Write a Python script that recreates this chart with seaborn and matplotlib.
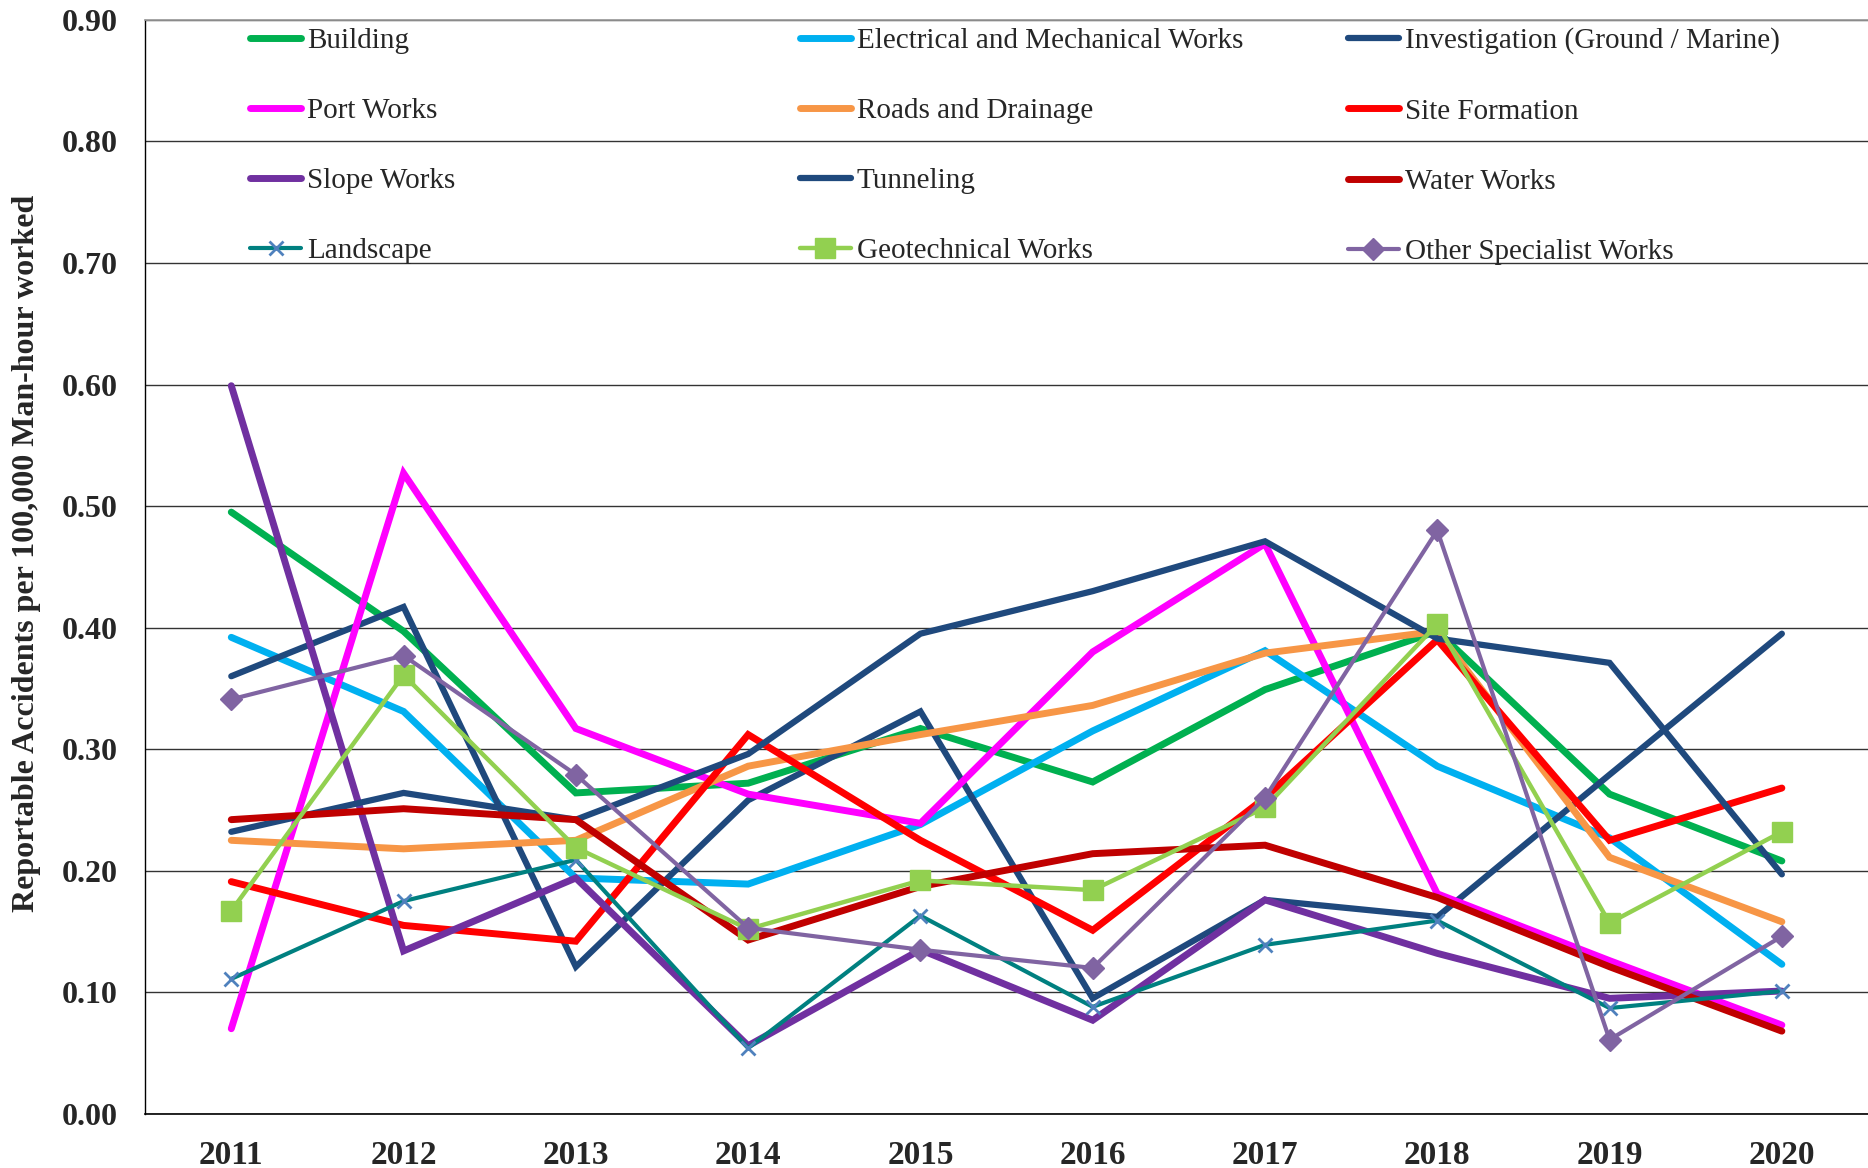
import numpy as np
import pandas as pd
import matplotlib
matplotlib.use("Agg")
import matplotlib.pyplot as plt
import seaborn as sns

years = ["2011", "2012", "2013", "2014", "2015", "2016", "2017", "2018", "2019", "2020"]

building = [0.495, 0.397, 0.264, 0.272, 0.317, 0.273, 0.349, 0.397, 0.263, 0.208]
electrical = [0.392, 0.331, 0.194, 0.189, 0.238, 0.315, 0.381, 0.286, 0.227, 0.123]
investigation = [0.360, 0.417, 0.121, 0.258, 0.331, 0.095, 0.176, 0.162, 0.279, 0.395]
port_works = [0.070, 0.527, 0.317, 0.263, 0.239, 0.380, 0.469, 0.181, 0.126, 0.073]
roads = [0.225, 0.218, 0.225, 0.286, 0.312, 0.336, 0.379, 0.397, 0.211, 0.158]
site_formation = [0.191, 0.155, 0.142, 0.312, 0.225, 0.151, 0.260, 0.390, 0.225, 0.268]
slope_works = [0.599, 0.134, 0.194, 0.056, 0.135, 0.077, 0.176, 0.132, 0.095, 0.101]
tunneling = [0.232, 0.264, 0.242, 0.296, 0.395, 0.430, 0.471, 0.391, 0.371, 0.197]
water_works = [0.242, 0.251, 0.242, 0.143, 0.187, 0.214, 0.221, 0.178, 0.121, 0.068]
landscape = [0.111, 0.175, 0.209, 0.054, 0.163, 0.088, 0.139, 0.159, 0.087, 0.101]
geotechnical = [0.167, 0.361, 0.219, 0.152, 0.192, 0.184, 0.252, 0.403, 0.157, 0.232]
other_specialist = [0.341, 0.377, 0.279, 0.153, 0.135, 0.120, 0.260, 0.480, 0.061, 0.146]

series_names = ["Building", "Electrical and Mechanical Works", "Investigation (Ground / Marine)",
                "Port Works", "Roads and Drainage", "Site Formation",
                "Slope Works", "Tunneling", "Water Works",
                "Landscape", "Geotechnical Works", "Other Specialist Works"]
series_values = [building, electrical, investigation, port_works, roads, site_formation,
                 slope_works, tunneling, water_works, landscape, geotechnical, other_specialist]

colors = ["#00B050", "#00B0F0", "#1F497D", "#FF00FF", "#F79646", "#FF0000",
          "#7030A0", "#1F497D", "#C00000", "#008080", "#92D050", "#8064A2"]
widths = [5.0, 5.0, 4.5, 5.0, 5.0, 5.0, 5.0, 4.5, 5.0, 3.0, 3.2, 3.0]
markers = [None, None, None, None, None, None, None, None, None, "x", "s", "D"]
msizes = [0, 0, 0, 0, 0, 0, 0, 0, 0, 10, 14, 11]
mecs = [None] * 9 + ["#4F81BD", "#92D050", "#8064A2"]

df = pd.concat([pd.DataFrame({"Year": years, "Value": v, "Series": n})
                for n, v in zip(series_names, series_values)], ignore_index=True)

sns.set_theme(style="white")
plt.rcParams["font.family"] = ["Liberation Serif", "DejaVu Serif"]

fig = plt.figure(figsize=(18.68, 11.68), dpi=100)
ax = fig.add_axes([0.0777, 0.0464, 0.9223, 0.9366])

for i, name in enumerate(series_names):
    sub = df[df["Series"] == name]
    kw = dict(linewidth=widths[i], color=colors[i])
    if markers[i] is not None:
        kw.update(marker=markers[i], markersize=msizes[i], markeredgecolor=mecs[i],
                  markerfacecolor=colors[i] if markers[i] != "x" else "none",
                  markeredgewidth=2 if markers[i] == "x" else 1)
    sns.lineplot(data=sub, x="Year", y="Value", ax=ax, label=name, sort=False,
                 solid_capstyle="round", solid_joinstyle="miter", **kw)

ax.set_xlim(-0.5, 9.5)
ax.set_ylim(0, 0.9)
ax.set_yticks(np.arange(0, 0.91, 0.1))
ax.set_yticklabels([f"{t:.2f}" for t in np.arange(0, 0.91, 0.1)], fontsize=23, fontweight="bold")
ax.set_xticks(range(len(years)))
ax.set_xticklabels(years, fontsize=24, fontweight="bold")
ax.set_xticks(np.arange(0.5, 9.0, 1.0), minor=True)
ax.tick_params(axis="x", which="major", length=0, pad=19)
ax.tick_params(axis="x", which="minor", length=10, direction="in", width=1, color="#333333")
ax.tick_params(axis="y", length=0, pad=20)
ax.set_xlabel("")
ax.set_ylabel("Reportable Accidents per 100,000 Man-hour worked", fontsize=23, fontweight="bold")
ax.yaxis.set_label_coords(-0.0605, 0.512)

ax.yaxis.grid(True, color="#333333", linewidth=1.0)
ax.xaxis.grid(False)
ax.set_axisbelow(True)
ax.spines["right"].set_visible(False)
ax.spines["top"].set_color("#999999")
ax.spines["left"].set_color("black")
ax.spines["bottom"].set_color("black")
ax.spines["left"].set_linewidth(1.0)
ax.spines["bottom"].set_linewidth(1.2)

h, l = ax.get_legend_handles_labels()
ax.get_legend().remove()
col_x = [0.0609, 0.380, 0.698]
legs = []
for c in range(3):
    idx = [c, c + 3, c + 6, c + 9]
    leg = ax.legend([h[i] for i in idx], [l[i] for i in idx], ncol=1, frameon=False,
                    loc="upper left", bbox_to_anchor=(col_x[c], 0.993), fontsize=21,
                    handlelength=1.75, handletextpad=0.2, labelspacing=1.5,
                    borderaxespad=0, borderpad=0)
    legs.append(leg)
for leg in legs[:-1]:
    ax.add_artist(leg)

fig.savefig("out.png", dpi=100)
